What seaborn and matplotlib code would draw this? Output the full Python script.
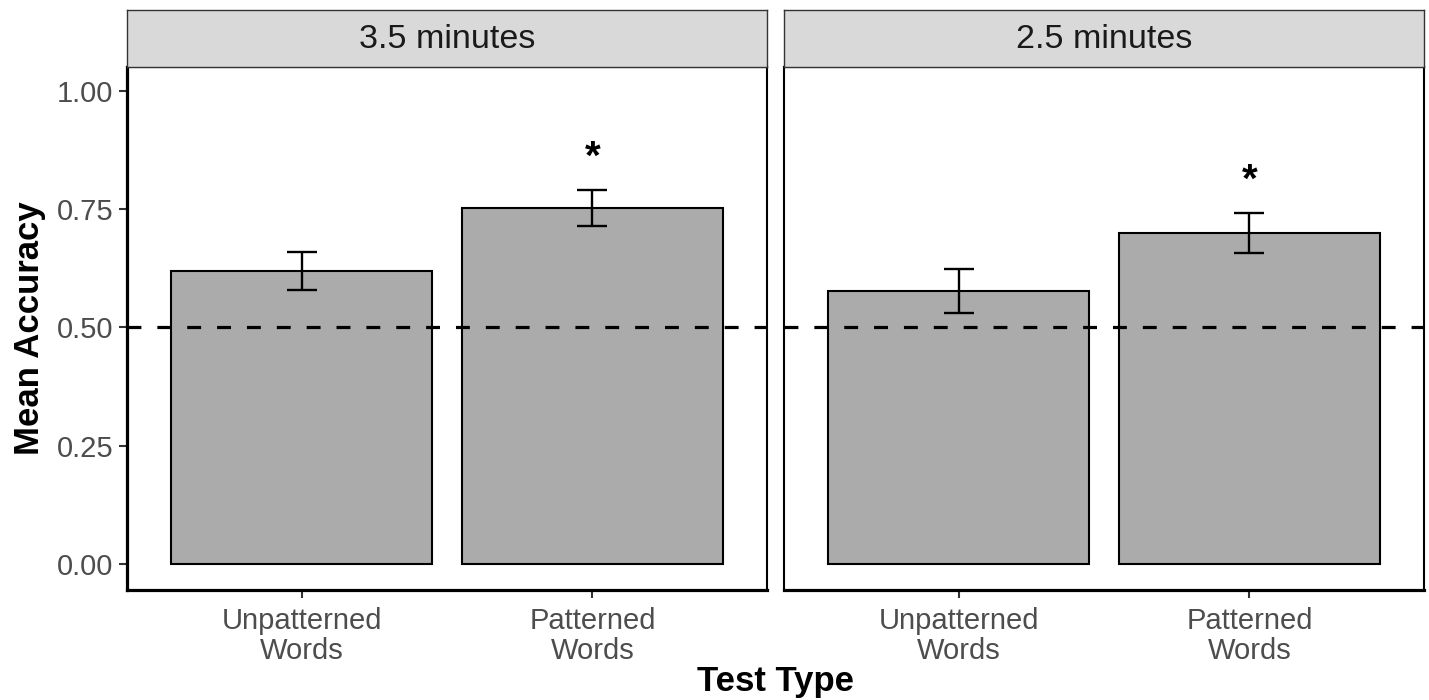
import pandas as pd
import matplotlib
matplotlib.use("Agg")
import matplotlib.pyplot as plt
import seaborn as sns

# Data
panels = ["3.5 minutes", "2.5 minutes"]
test_types = ["Unpatterned\nWords", "Patterned\nWords"]
mean_35 = [0.619, 0.753]
mean_25 = [0.577, 0.700]
lower_35 = [0.579, 0.715]
upper_35 = [0.660, 0.790]
lower_25 = [0.531, 0.658]
upper_25 = [0.623, 0.741]
star_35 = [None, 0.873]
star_25 = [None, 0.824]
chance = 0.5
y_ticks = [0.00, 0.25, 0.50, 0.75, 1.00]

sns.set_theme(style="white")
plt.rcParams["font.family"] = ["Liberation Sans", "DejaVu Sans"]
plt.rcParams["lines.scale_dashes"] = False

W, H = 1429, 700
fig = plt.figure(figsize=(W / 100, H / 100), dpi=100)
fig.patch.set_facecolor("white")


def px_box(x0, y0, x1, y1):
    # pixel box (top-left origin) -> figure coords
    return [x0 / W, 1 - y1 / H, (x1 - x0) / W, (y1 - y0) / H]


panel_x = [(127, 767), (784, 1424)]
means = [mean_35, mean_25]
lowers = [lower_35, lower_25]
uppers = [upper_35, upper_25]
stars = [star_35, star_25]

for i, title in enumerate(panels):
    x0, x1 = panel_x[i]
    ax = fig.add_axes(px_box(x0, 67, x1, 590))
    df = pd.DataFrame({"test": test_types, "acc": means[i]})
    sns.barplot(data=df, x="test", y="acc", order=test_types, ax=ax,
                color="#ABABAB", saturation=1, width=0.9,
                edgecolor="black", linewidth=1.5, zorder=2)
    # dashed chance line
    ax.axhline(chance, color="black", lw=2.3, ls=(0, (10, 11.5)), zorder=3)
    # error bars
    pos = list(range(len(test_types)))
    m = means[i]
    yerr = [[m[k] - lowers[i][k] for k in pos], [uppers[i][k] - m[k] for k in pos]]
    ax.errorbar(pos, m, yerr=yerr, fmt="none", ecolor="black",
                elinewidth=1.7, capsize=10.5, capthick=1.7, zorder=4)
    for k in pos:
        if stars[i][k] is not None:
            ax.annotate("*", xy=(k, stars[i][k]), xytext=(0, -5),
                        textcoords="offset points", ha="center", va="center",
                        fontsize=29, fontweight="bold", color="black")

    ax.set_xlim(-0.6, 1.6)
    ax.set_ylim(-0.055, 1.05)
    ax.set_xlabel("")
    ax.set_ylabel("")
    ax.set_yticks(y_ticks)
    ax.set_yticklabels([f"{v:.2f}" for v in y_ticks])
    ax.tick_params(axis="both", colors="#333333", labelcolor="#4D4D4D",
                   labelsize=21, length=6, width=1.5, pad=4)
    ax.tick_params(axis="x", bottom=True, pad=6)
    if i == 0:
        ax.tick_params(axis="y", left=True)
    else:
        ax.tick_params(axis="y", left=False, labelleft=False)
    for lbl in ax.get_xticklabels():
        lbl.set_linespacing(1.12)
    for side, sp in ax.spines.items():
        sp.set_visible(True)
        sp.set_color("black")
        sp.set_linewidth(1.5)
    ax.spines["bottom"].set_linewidth(2.3)
    if i == 0:
        ax.spines["left"].set_linewidth(2.3)

    # facet strip
    sax = fig.add_axes(px_box(x0, 10, x1, 67))
    sax.set_facecolor("#D9D9D9")
    sax.set_xticks([])
    sax.set_yticks([])
    for sp in sax.spines.values():
        sp.set_color("#333333")
        sp.set_linewidth(1.0)
    sax.text(0.5, 0.48, title, ha="center", va="center", fontsize=24.5,
             color="#1A1A1A", transform=sax.transAxes)

fig.text(775.5 / W, 1 - 681 / H, "Test Type", ha="center", va="center",
         fontsize=25, fontweight="bold", color="black")
fig.text(30 / W, 1 - 328 / H, "Mean Accuracy", ha="center", va="center",
         rotation=90, fontsize=25, fontweight="bold", color="black")

fig.savefig("out.png", dpi=100, facecolor="white")
